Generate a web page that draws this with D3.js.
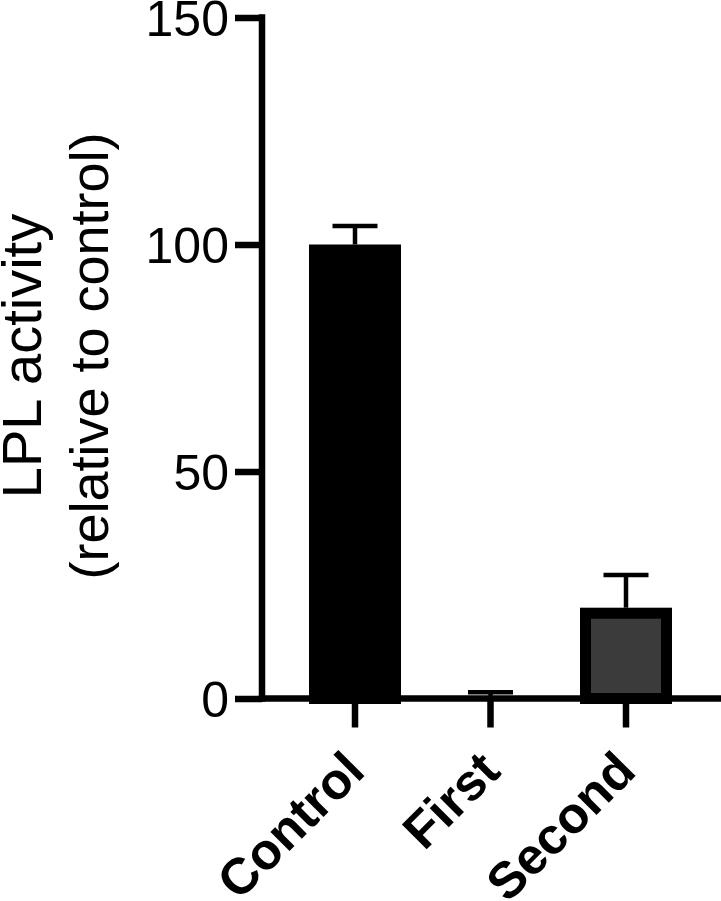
<!DOCTYPE html>
<html>
<head>
<meta charset="utf-8">
<script src="https://cdn.jsdelivr.net/npm/d3@7"></script>
<style>
  body { margin: 0; background: #fff; }
  text { font-family: "Liberation Sans", Arial, Helvetica, sans-serif; }
</style>
</head>
<body>
<div class="chart"></div>
<script>
// data
var groups = ["Control", "First", "Second"];
var means = [100, 0.5, 20];
var sems = [4.1, 0.9, 7.2];
var barColors = ["#000000", "#000000", "#3b3b3b"];
var yTicks = [0, 50, 100, 150];

var svgWidth = 721;
var svgHeight = 901;

var svg = d3.select(".chart")
  .append("svg")
  .attr("width", svgWidth)
  .attr("height", svgHeight);

var axisX = 262;       // y axis position
var zeroY = 698.5;     // x axis position
var topY = 17.5;
var axisW = 6.5;
var barStroke = 11;

var yScale = d3.scaleLinear()
  .domain([0, 150])
  .range([zeroY, topY]);

var xScale = d3.scaleBand()
  .domain(groups)
  .range([309, 672])
  .paddingInner(0.321)
  .paddingOuter(0);

var data = groups.map(function(g, i) {
  return { name: g, mean: means[i], sem: sems[i], color: barColors[i] };
});

// bars (outer edge = value)
svg.selectAll(".bar")
  .data(data)
  .enter()
  .append("rect")
  .attr("class", "bar")
  .attr("x", d => xScale(d.name) + barStroke / 2)
  .attr("width", xScale.bandwidth() - barStroke)
  .attr("y", d => yScale(d.mean) + barStroke / 2)
  .attr("height", d => Math.max(0, zeroY - yScale(d.mean) - barStroke / 2))
  .attr("fill", d => d.color)
  .attr("stroke", "#000")
  .attr("stroke-width", d => d.mean > 2 ? barStroke : 0);

// error bars (upper only)
var capHalf = 22.5;
svg.selectAll(".err")
  .data(data)
  .enter()
  .append("line")
  .attr("x1", d => xScale(d.name) + xScale.bandwidth() / 2)
  .attr("x2", d => xScale(d.name) + xScale.bandwidth() / 2)
  .attr("y1", d => yScale(d.mean))
  .attr("y2", d => yScale(d.mean + d.sem))
  .attr("stroke", "#000")
  .attr("stroke-width", 4.5);

svg.selectAll(".cap")
  .data(data)
  .enter()
  .append("line")
  .attr("x1", d => xScale(d.name) + xScale.bandwidth() / 2 - capHalf)
  .attr("x2", d => xScale(d.name) + xScale.bandwidth() / 2 + capHalf)
  .attr("y1", d => yScale(d.mean + d.sem))
  .attr("y2", d => yScale(d.mean + d.sem))
  .attr("stroke", "#000")
  .attr("stroke-width", 4.5);

// y axis
var yAxis = d3.axisLeft(yScale)
  .tickValues(yTicks)
  .tickSize(27)
  .tickPadding(6)
  .tickSizeOuter(0);

var yG = svg.append("g")
  .attr("transform", `translate(${axisX}, 0)`)
  .call(yAxis);
yG.select(".domain").remove();
yG.selectAll(".tick line").attr("stroke", "#000").attr("stroke-width", axisW);
yG.selectAll(".tick text")
  .attr("font-size", "50px")
  .attr("fill", "#000")
  .attr("dy", "0.36em")
  .style("font-family", "'Liberation Sans', Arial, sans-serif");

svg.append("line")
  .attr("x1", axisX).attr("x2", axisX)
  .attr("y1", topY - axisW / 2)
  .attr("y2", zeroY + axisW / 2)
  .attr("stroke", "#000")
  .attr("stroke-width", axisW);

// x axis
svg.append("line")
  .attr("x1", axisX - axisW / 2).attr("x2", svgWidth)
  .attr("y1", zeroY).attr("y2", zeroY)
  .attr("stroke", "#000")
  .attr("stroke-width", axisW);

var xAxis = d3.axisBottom(xScale)
  .tickSize(29)
  .tickSizeOuter(0);

var xG = svg.append("g")
  .attr("transform", `translate(0, ${zeroY})`)
  .call(xAxis);
xG.select(".domain").remove();
xG.selectAll(".tick line").attr("stroke", "#000").attr("stroke-width", axisW);
xG.selectAll(".tick text")
  .attr("font-size", "51px")
  .attr("font-weight", "bold")
  .attr("fill", "#000")
  .attr("text-anchor", "end")
  .attr("x", 0).attr("y", 0).attr("dy", 0)
  .attr("transform", "translate(12, 75) rotate(-45)")
  .style("font-family", "'Liberation Sans', Arial, sans-serif");

// y axis title
var title = svg.append("g")
  .attr("transform", `translate(0, 356) rotate(-90)`);
title.append("text")
  .attr("x", 0).attr("y", 41)
  .attr("text-anchor", "middle")
  .attr("font-size", "56px")
  .attr("fill", "#000")
  .text("LPL activity");
title.append("text")
  .attr("x", 0).attr("y", 108)
  .attr("text-anchor", "middle")
  .attr("font-size", "54px")
  .attr("fill", "#000")
  .text("(relative to control)");
</script>
</body>
</html>
